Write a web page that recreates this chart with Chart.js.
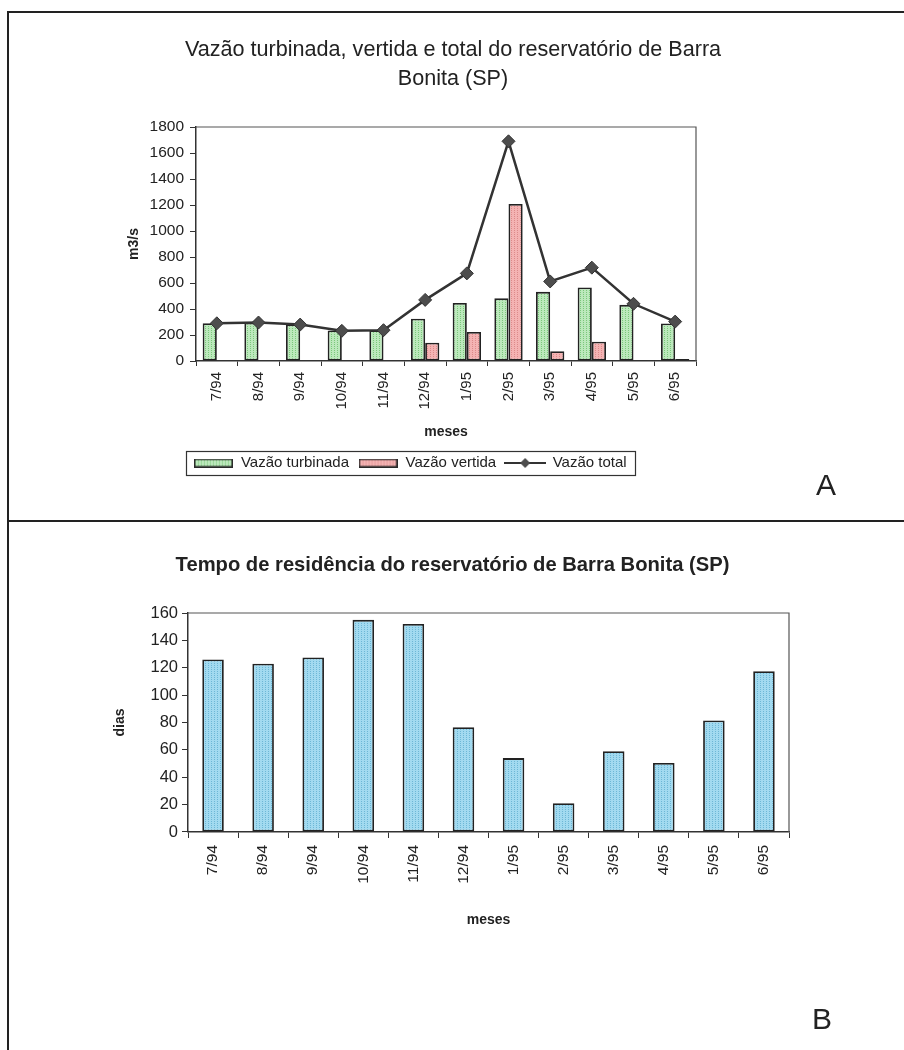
<!DOCTYPE html>
<html><head><meta charset="utf-8">
<script src="https://cdn.jsdelivr.net/npm/chart.js@4/dist/chart.umd.min.js"></script>
<style>
html,body{margin:0;padding:0;background:#fff;}
body{width:904px;height:1050px;position:relative;overflow:hidden;font-family:"Liberation Sans",Arial,sans-serif;}
#c1,#c2{position:absolute;left:0;}
#c1{top:12px;}
#c2{top:521px;}
.line{position:absolute;background:#222;}
.panel-label{position:absolute;font-size:30px;line-height:30px;color:#222;}
</style></head><body>
<canvas id="c1" width="904" height="509"></canvas>
<canvas id="c2" width="904" height="529"></canvas>
<div class="line" style="left:7px;top:11px;width:2px;height:1039px"></div>
<div class="line" style="left:7px;top:11px;width:897px;height:2px"></div>
<div class="line" style="left:7px;top:520px;width:897px;height:2px"></div>
<div class="panel-label" style="left:816px;top:470px">A</div>
<div class="panel-label" style="left:812px;top:1004px">B</div>
<script>
// ---------- data ----------
const categories = ['7/94','8/94','9/94','10/94','11/94','12/94','1/95','2/95','3/95','4/95','5/95','6/95'];
const vazaoTurbinada = [290, 295, 282, 235, 237, 325, 447, 482, 532, 566, 432, 288];
const vazaoVertida   = [0, 3, 0, 0, 0, 141, 224, 1208, 75, 149, 5, 15];
const vazaoTotal     = [290, 296, 280, 232, 237, 470, 674, 1690, 612, 718, 440, 303];
const tempoResidencia = [126, 123, 127.5, 155, 152, 76.5, 54, 21, 59, 50.5, 81.5, 117.5];
const ticksA = [0, 200, 400, 600, 800, 1000, 1200, 1400, 1600, 1800];
const ticksB = [0, 20, 40, 60, 80, 100, 120, 140, 160];
const titleA = ['Vazão turbinada, vertida e total do reservatório de Barra', 'Bonita (SP)'];
const titleB = 'Tempo de residência do reservatório de Barra Bonita (SP)';
const seriesNames = ['Vazão turbinada', 'Vazão vertida', 'Vazão total'];

// ---------- helpers ----------
const FONT = '"Liberation Sans", Arial, sans-serif';
Chart.defaults.font.family = FONT;
Chart.defaults.color = '#222';

function makeTile(base, dot){
  const t = document.createElement('canvas'); t.width = 3; t.height = 2;
  const x = t.getContext('2d');
  x.fillStyle = base; x.fillRect(0,0,3,2);
  x.fillStyle = dot; x.fillRect(1,0,1,1);
  return t;
}
function pattern(ctx, base, dot){ return ctx.createPattern(makeTile(base, dot), 'repeat'); }
function barSwatch(base, dot){
  const c = document.createElement('canvas'); c.width = 39; c.height = 9;
  const x = c.getContext('2d');
  x.fillStyle = pattern(x, base, dot); x.fillRect(0,0,39,9);
  x.strokeStyle = '#2a2a2a'; x.lineWidth = 1.5; x.strokeRect(0.75,0.75,37.5,7.5);
  return c;
}
function lineSwatch(){
  const c = document.createElement('canvas'); c.width = 42; c.height = 12;
  const x = c.getContext('2d');
  x.strokeStyle = '#333'; x.lineWidth = 2;
  x.beginPath(); x.moveTo(0,6); x.lineTo(42,6); x.stroke();
  x.fillStyle = '#4d4d4d';
  x.beginPath(); x.moveTo(21,1); x.lineTo(26,6); x.lineTo(21,11); x.lineTo(16,6); x.closePath(); x.fill();
  return c;
}
const GREEN = ['#bce9bc', '#7cc77c'];
const PINK = ['#f4b3b3', '#dc8a8a'];
const BLUE = ['#a2daf0', '#6db7d6'];
const swatches = [barSwatch(...GREEN), barSwatch(...PINK), lineSwatch()];
const plainNum = v => String(v);

const framePlugin = {
  id: 'frame',
  beforeDatasetsDraw(chart){
    const a = chart.chartArea, c = chart.ctx;
    c.save(); c.strokeStyle = '#555'; c.lineWidth = 1.2;
    c.beginPath(); c.moveTo(a.left, a.top); c.lineTo(a.right, a.top); c.lineTo(a.right, a.bottom); c.stroke();
    c.restore();
  }
};
const legendShiftPlugin = {
  id: 'legendShift',
  afterLayout(chart, args, opts){
    const l = chart.legend; if (!l || !opts || opts.x === undefined) return;
    const dx = opts.x - (l.left + l.right) / 2;
    const pad = l.options.labels.padding, fs = l.options.labels.font.size;
    const dy = opts.y - (l.top + pad + fs / 2);
    l.left += dx; l.right += dx; l.top += dy; l.bottom += dy;
  },
  afterDraw(chart){
    const l = chart.legend; if (!l || !l.legendHitBoxes || !l.legendHitBoxes.length) return;
    const hb = l.legendHitBoxes;
    const x0 = Math.min(...hb.map(h => h.left)) - 7;
    const x1 = Math.max(...hb.map(h => h.left + h.width)) + 9;
    const cy = hb[0].top + hb[0].height / 2;
    const c = chart.ctx; c.save(); c.strokeStyle = '#333'; c.lineWidth = 1.2;
    c.strokeRect(Math.round(x0) + 0.5, Math.round(cy - 12) + 0.5, Math.round(x1 - x0), 24);
    c.restore();
  }
};
function fitVertical(chart, top, bottom){
  const a = chart.chartArea, o = chart.config.options;
  o.plugins.title.padding.bottom += top - a.top;
  o.layout.padding.bottom += a.bottom - bottom;
  chart.update();
}

// ---------- chart A ----------
const cv1 = document.getElementById('c1');
const ctx1 = cv1.getContext('2d');
const chartA = new Chart(cv1, {
  type: 'bar',
  data: {
    labels: categories,
    datasets: [
      { type: 'bar', label: seriesNames[0], data: vazaoTurbinada, backgroundColor: pattern(ctx1, ...GREEN),
        borderColor: '#222', borderWidth: 1.8, borderSkipped: false, categoryPercentage: 0.68, barPercentage: 1, order: 2 },
      { type: 'bar', label: seriesNames[1], data: vazaoVertida, backgroundColor: pattern(ctx1, ...PINK),
        borderColor: '#222', borderWidth: 1.8, borderSkipped: false, categoryPercentage: 0.68, barPercentage: 1, order: 2 },
      { type: 'line', label: seriesNames[2], data: vazaoTotal, borderColor: '#333', borderWidth: 2.5, tension: 0,
        pointStyle: 'rectRot', pointRadius: 6.5, pointBackgroundColor: '#4d4d4d', pointBorderColor: '#333', pointBorderWidth: 1, order: 1 }
    ]
  },
  options: {
    responsive: false, animation: false, devicePixelRatio: 1,
    layout: { padding: { left: 2, right: 0, top: 0, bottom: 30 } },
    plugins: {
      tooltip: { enabled: false },
      title: { display: true, text: titleA, color: '#222',
        font: { family: FONT, size: 21.6, weight: 'normal', lineHeight: 1.34 }, padding: { top: 23.5, bottom: 33.5 } },
      legend: { display: true, position: 'bottom',
        labels: { usePointStyle: true, pointStyleWidth: 40, padding: 9, color: '#222', font: { family: FONT, size: 15 },
          generateLabels(chart){
            const items = Chart.defaults.plugins.legend.labels.generateLabels(chart);
            items.forEach(it => { it.pointStyle = swatches[it.datasetIndex]; });
            return items.sort((a, b) => a.datasetIndex - b.datasetIndex);
          } } },
      legendShift: { x: 410, y: 451 }
    },
    scales: {
      x: {
        grid: { drawOnChartArea: false, drawTicks: true, tickLength: 5, color: '#333', offset: true },
        border: { display: true, color: '#333', width: 1.5 },
        ticks: { font: { family: FONT, size: 15 }, color: '#222', minRotation: 90, maxRotation: 90, autoSkip: false, padding: 6 },
        title: { display: true, text: 'meses', color: '#222', font: { family: FONT, size: 14, weight: 'bold', lineHeight: 1.2 }, padding: { top: 0, bottom: 0 } },
        afterFit(s){ s.height = 80; }
      },
      y: {
        min: 0, max: 1800,
        afterBuildTicks(s){ s.ticks = ticksA.map(v => ({ value: v })); },
        grid: { drawOnChartArea: false, tickLength: 6, color: '#333' },
        border: { display: true, color: '#333', width: 1.5 },
        ticks: { font: { family: FONT, size: 15.5 }, color: '#222', padding: 6, callback: plainNum },
        title: { display: true, text: 'm3/s', color: '#222', font: { family: FONT, size: 14, weight: 'bold', lineHeight: 1.2 }, padding: { top: 124, bottom: 0 } },
        afterFit(s){ s.width = 194; }
      },
      y2: {
        position: 'right', display: true,
        grid: { display: false }, border: { display: false }, ticks: { display: false },
        afterFit(s){ s.width = 208; }
      }
    }
  },
  plugins: [framePlugin, legendShiftPlugin]
});
fitVertical(chartA, 115, 349);

// ---------- chart B ----------
const cv2 = document.getElementById('c2');
const ctx2 = cv2.getContext('2d');
const chartB = new Chart(cv2, {
  type: 'bar',
  data: {
    labels: categories,
    datasets: [
      { label: 'Tempo de residência', data: tempoResidencia, backgroundColor: pattern(ctx2, ...BLUE),
        borderColor: '#222', borderWidth: 1.8, borderSkipped: false, categoryPercentage: 1, barPercentage: 0.43 }
    ]
  },
  options: {
    responsive: false, animation: false, devicePixelRatio: 1,
    layout: { padding: { left: 1, right: 0, top: 0, bottom: 20 } },
    plugins: {
      tooltip: { enabled: false },
      legend: { display: false },
      title: { display: true, text: titleB, color: '#222',
        font: { family: FONT, size: 20.2, weight: 'bold', lineHeight: 1.2 }, padding: { top: 31.9, bottom: 36.3 } }
    },
    scales: {
      x: {
        grid: { drawOnChartArea: false, drawTicks: true, tickLength: 6, color: '#333', offset: true },
        border: { display: true, color: '#333', width: 1.5 },
        ticks: { font: { family: FONT, size: 15.5 }, color: '#222', minRotation: 90, maxRotation: 90, autoSkip: false, padding: 7 },
        title: { display: true, text: 'meses', color: '#222', font: { family: FONT, size: 14, weight: 'bold', lineHeight: 1.2 }, padding: { top: 0, bottom: 0 } },
        afterFit(s){ s.height = 96.4; }
      },
      y: {
        min: 0, max: 160,
        afterBuildTicks(s){ s.ticks = ticksB.map(v => ({ value: v })); },
        grid: { drawOnChartArea: false, tickLength: 6, color: '#333' },
        border: { display: true, color: '#333', width: 1.5 },
        ticks: { font: { family: FONT, size: 16.5 }, color: '#222', padding: 4, callback: plainNum },
        title: { display: true, text: 'dias', color: '#222', font: { family: FONT, size: 14, weight: 'bold', lineHeight: 1.2 }, padding: { top: 110.6, bottom: 0 } },
        afterFit(s){ s.width = 187; }
      },
      y2: {
        position: 'right', display: true,
        grid: { display: false }, border: { display: false }, ticks: { display: false },
        afterFit(s){ s.width = 115; }
      }
    }
  },
  plugins: [framePlugin]
});
fitVertical(chartB, 92, 311);
</script>
</body></html>
